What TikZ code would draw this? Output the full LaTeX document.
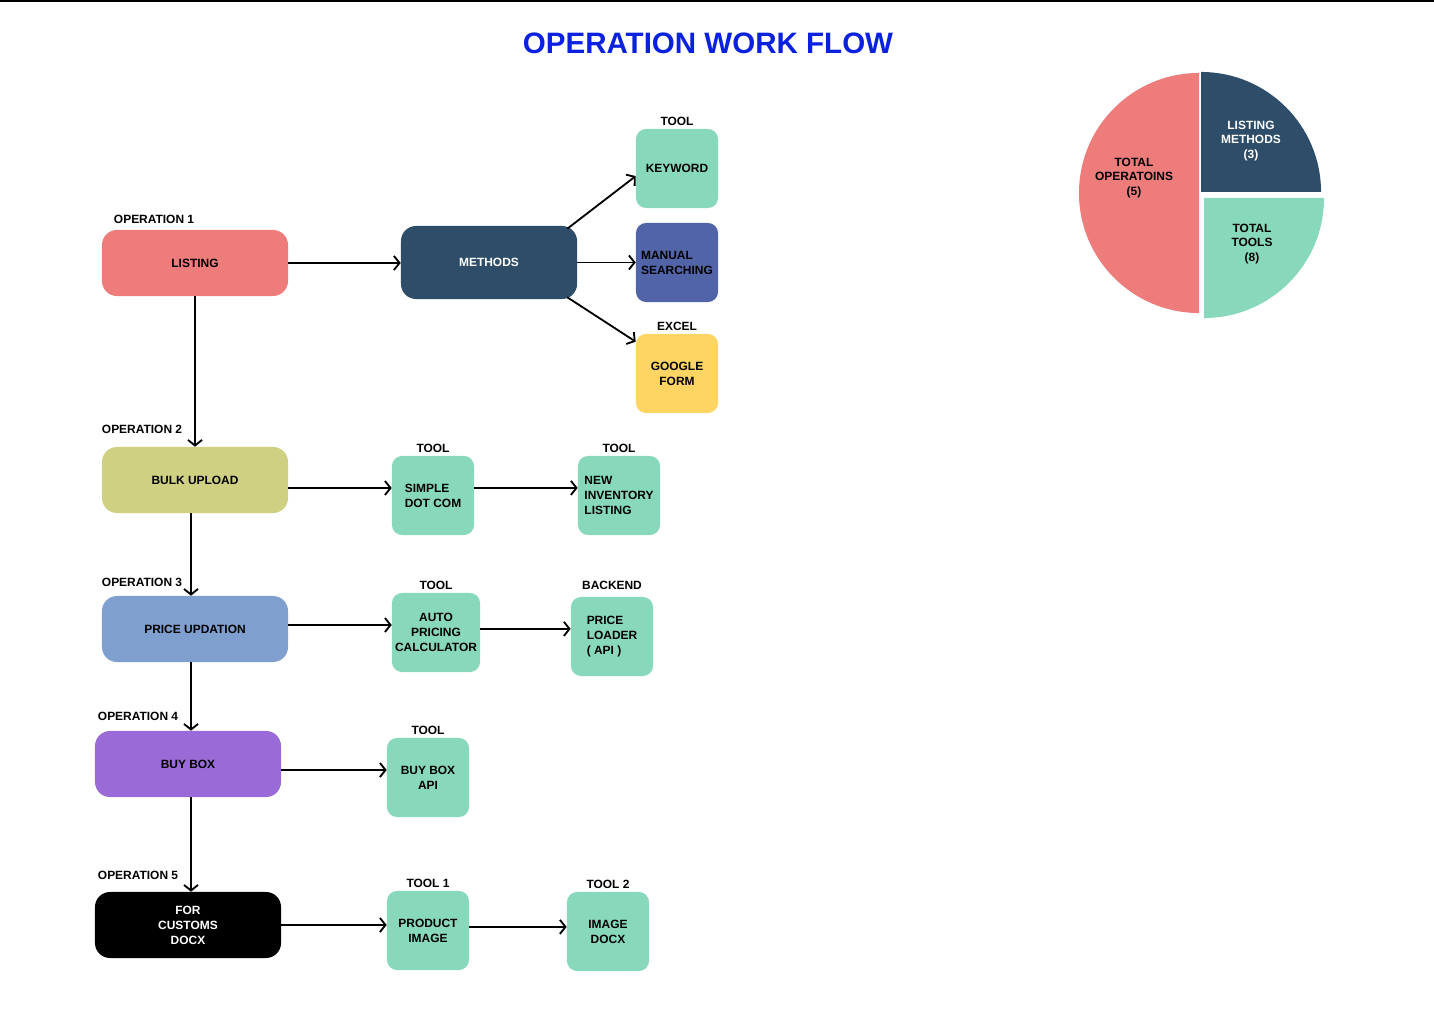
\documentclass[tikz,border=0pt]{standalone}
\usepackage{fontspec}
\setmainfont{Liberation Sans}
\usetikzlibrary{positioning, arrows.meta}

\definecolor{salmon}{HTML}{ED7C7A}
\definecolor{olive}{HTML}{CFD081}
\definecolor{steel}{HTML}{7F9FCF}
\definecolor{violet}{HTML}{9A6BD6}
\definecolor{slate}{HTML}{2E4D69}
\definecolor{mint}{HTML}{88D9BC}
\definecolor{indigo}{HTML}{5164A8}
\definecolor{sun}{HTML}{FED563}
\definecolor{titleblue}{HTML}{0A22E0}

\begin{document}
\begin{tikzpicture}[
  x=0.025cm, y=-0.025cm,
  font=\fontsize{8.5}{10.6}\selectfont\bfseries,
  every node/.style={align=center},
  opbox/.style={fill=#1, rounded corners=0.375cm, minimum width=4.65cm, minimum height=1.65cm, inner sep=0pt},
  toolbox/.style={fill=#1, rounded corners=0.25cm, minimum width=2.05cm, minimum height=1.975cm, inner sep=0pt},
  tag/.style={inner sep=0pt},
  arr/.style={line width=1.3pt, -{Straight Barb[length=4pt, width=10pt, line width=1.3pt]}}]

\useasboundingbox (0,0) rectangle (1434,1023);
\draw[line width=1.2pt] (0,1) -- (1434,1);

% Title
\node[tag, text=titleblue, font=\fontsize{21}{25}\selectfont\bfseries] (title) at (708,43) {OPERATION WORK FLOW};

%Operations column
\node[opbox=salmon] (listing) at (195,263) {LISTING};
\node[opbox=olive] (bulk) at (195,480) {BULK UPLOAD};
\node[opbox=steel] (price) at (195,629) {PRICE UPDATION};
\node[opbox=violet] (buy) at (188,764) {BUY BOX};
\node[opbox=black, text=white] (cust) at (188,925) {FOR\\CUSTOMS\\DOCX};

\node[tag, anchor=south west] (op1) at ([xshift=0.3cm, yshift=0.15cm]listing.north west) {OPERATION 1};
\node[tag, anchor=south west] (op2) at ([yshift=0.32cm]bulk.north west) {OPERATION 2};
\node[tag, anchor=south west] (op3) at ([yshift=0.22cm]price.north west) {OPERATION 3};
\node[tag, anchor=south west] (op4) at ([xshift=0.075cm, yshift=0.25cm]buy.north west) {OPERATION 4};
\node[tag, anchor=south west] (op5) at ([xshift=0.075cm, yshift=0.3cm]cust.north west) {OPERATION 5};

%Listing methods
\node[opbox=slate, text=white, minimum width=4.4cm, minimum height=1.825cm] (methods) at (489,262.5) {METHODS};
\node[toolbox=mint] (kw) at (677,168.5) {KEYWORD};
\node[toolbox=indigo, align=left] (manual) at (677,262.5) {MANUAL\\SEARCHING};
\node[toolbox=sun] (gform) at (677,373.5) {GOOGLE\\FORM};
\node[tag, above=0.08cm of kw] (kwtag) {TOOL};
\node[tag, above=0.08cm of gform] (gftag) {EXCEL};

%Tools per operation
\node[toolbox=mint, align=left] (simple) at (433,495.5) {SIMPLE\\DOT COM};
\node[toolbox=mint, align=left] (newinv) at (619,495.5) {NEW\\INVENTORY\\LISTING};
\node[toolbox=mint, minimum width=2.2cm] (auto) at (436,632.5) {AUTO\\PRICING\\CALCULATOR};
\node[toolbox=mint, align=left] (loader) at (612,636.5) {PRICE\\LOADER\\( API )};
\node[toolbox=mint] (api) at (428,777.5) {BUY BOX\\API};
\node[toolbox=mint] (product) at (428,930.5) {PRODUCT\\IMAGE};
\node[toolbox=mint] (imgdocx) at (608,931.5) {IMAGE\\DOCX};

\node[tag, above=0.08cm of simple] (simpletag) {TOOL};
\node[tag, above=0.08cm of newinv] (newinvtag) {TOOL};
\node[tag, above=0.08cm of auto] (autotag) {TOOL};
\node[tag, above=0.16cm of loader] (loadertag) {BACKEND};
\node[tag, above=0.08cm of api] (apitag) {TOOL};
\node[tag, above=0.08cm of product] (producttag) {TOOL 1};
\node[tag, above=0.08cm of imgdocx] (imgdocxtag) {TOOL 2};

% Arrows down the operations
\draw[arr] (listing.south) -- (bulk.north);
\draw[arr] ([xshift=-0.1cm]bulk.south) -- ([xshift=-0.1cm]bulk.south |- price.north);
\draw[arr] ([xshift=-0.1cm]price.south) -- ([xshift=-0.1cm]price.south |- buy.north);
\draw[arr] ([xshift=0.075cm]buy.south) -- ([xshift=0.075cm]buy.south |- cust.north);

% Arrows to methods and tools
\draw[arr] (listing.east) -- (listing.east -| methods.west);
\draw[arr] ([xshift=-0.25cm, yshift=-0.075cm]methods.north east) -- ([yshift=-0.19cm]kw.west);
\draw[arr] (methods.east) -- (manual.west);
\draw[arr] ([xshift=-0.25cm, yshift=0.05cm]methods.south east) -- ([yshift=-0.2cm]gform.north west);

\draw[arr] ([yshift=-0.2cm]bulk.east) -- ([yshift=-0.2cm]bulk.east -| simple.west);
\draw[arr] ([yshift=0.19cm]simple.east) -- ([yshift=0.19cm]newinv.west);
\draw[arr] ([yshift=0.1cm]price.east) -- ([yshift=0.1cm]price.east -| auto.west);
\draw[arr] ([yshift=0.09cm]auto.east) -- ([yshift=0.09cm]auto.east -| loader.west);
\draw[arr] ([yshift=-0.15cm]buy.east) -- ([yshift=-0.15cm]buy.east -| api.west);
\draw[arr] (cust.east) -- (cust.east -| product.west);
\draw[arr] ([yshift=0.09cm]product.east) -- ([yshift=0.09cm]product.east -| imgdocx.west);

% Pie chart
\coordinate (pie) at (1199,193);
\fill[salmon] (pie) -- ++(90:3cm) arc[start angle=90, end angle=270, radius=3cm] -- cycle;
\fill[slate] (1201,192) -- ++(0:3cm) arc[start angle=0, end angle=90, radius=3cm] -- cycle;
\fill[mint] (1204,198) -- ++(270:3cm) arc[start angle=270, end angle=360, radius=3cm] -- cycle;
\node[tag] (opsum) at (1134,178) {TOTAL\\OPERATOINS\\(5)};
\node[tag, text=white] (methsum) at (1251,141) {LISTING\\METHODS\\(3)};
\node[tag] (toolsum) at (1252,244) {TOTAL\\TOOLS\\(8)};

\end{tikzpicture}
\end{document}
